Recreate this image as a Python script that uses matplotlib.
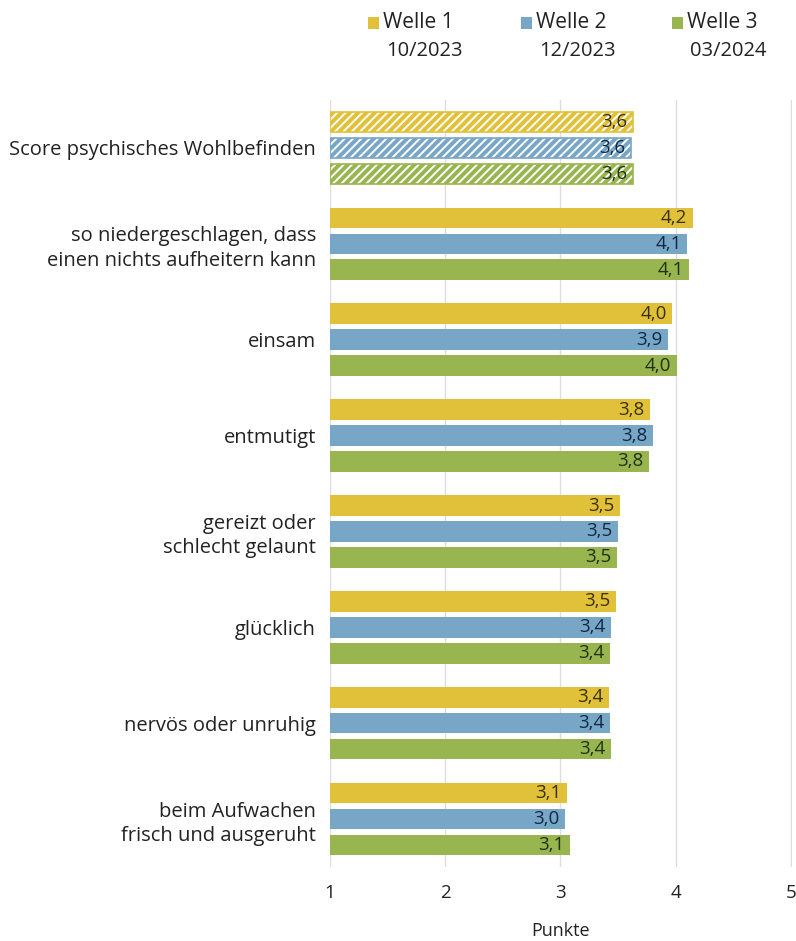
import matplotlib
matplotlib.use("Agg")
import matplotlib.pyplot as plt
from matplotlib.patches import Rectangle
import numpy as np

plt.rcParams['font.family'] = ['Open Sans', 'DejaVu Sans']
plt.rcParams['hatch.linewidth'] = 1.4

categories = [
    "Score psychisches Wohlbefinden",
    "so niedergeschlagen, dass\neinen nichts aufheitern kann",
    "einsam",
    "entmutigt",
    "gereizt oder\nschlecht gelaunt",
    "glücklich",
    "nervös oder unruhig",
    "beim Aufwachen\nfrisch und ausgeruht",
]
welle1 = [3.63, 4.15, 3.97, 3.78, 3.52, 3.48, 3.42, 3.06]
welle2 = [3.61, 4.10, 3.93, 3.80, 3.50, 3.44, 3.43, 3.04]
welle3 = [3.63, 4.12, 4.01, 3.77, 3.49, 3.43, 3.44, 3.08]
series_names = ["Welle 1", "Welle 2", "Welle 3"]
series_dates = ["10/2023", "12/2023", "03/2024"]
xticks = [1, 2, 3, 4, 5]
xlabel = "Punkte"

colors = ["#E2C13A", "#78A6C6", "#99B54F"]
text_colors = ["#3A3000", "#0E2A44", "#1E3210"]

W, H = 796, 941
fig = plt.figure(figsize=(W / 100, H / 100), dpi=100)
ax = fig.add_axes([330 / W, 1 - 867 / H, 462 / W, 767 / H])

base = 1.0
y = np.arange(len(categories))
offsets = [-0.27, 0.0, 0.27]
bh = 0.215
all_series = [welle1, welle2, welle3]

for s, (vals, off, col, tcol) in enumerate(zip(all_series, offsets, colors, text_colors)):
    for i, v in enumerate(vals):
        yy = y[i] + off
        if i == 0:
            ax.barh(yy, v - base, left=base, height=bh, color=col, edgecolor="white",
                    hatch="////", linewidth=0, zorder=3)
            ax.barh(yy, v - base, left=base, height=bh, fill=False, edgecolor=col,
                    linewidth=1.2, zorder=4)
        else:
            ax.barh(yy, v - base, left=base, height=bh, color=col, linewidth=0, zorder=3)
        lab = f"{v:.1f}".replace(".", ",")
        ax.annotate(lab, xy=(v, yy), xytext=(-4, 0), textcoords="offset points",
                    ha="right", va="center", fontsize=13.5, color=tcol, zorder=5)

ax.set_xlim(1, 5.01)
ax.set_ylim(len(categories) - 0.5, -0.5)
ax.set_xticks(xticks)
ax.set_xticklabels([str(t) for t in xticks], fontsize=13.5, color="#222222")
ax.set_yticks(y)
ax.set_yticklabels(categories, fontsize=14.5, color="#222222", linespacing=1.3)
ax.tick_params(axis="both", length=0)
ax.tick_params(axis="y", pad=10)
ax.tick_params(axis="x", pad=12)
for sp in ax.spines.values():
    sp.set_visible(False)
ax.grid(axis="x", color="#DDDDDD", linewidth=1.0, zorder=0)
ax.set_axisbelow(True)
ax.set_xlabel(xlabel, fontsize=13, color="#222222", labelpad=15)

# legend
leg_x = [368, 521, 672]
for name, date, col, lx in zip(series_names, series_dates, colors, leg_x):
    fig.patches.append(Rectangle((lx / W, 1 - 29 / H), 11 / W, 12 / H, transform=fig.transFigure,
                                 facecolor=col, edgecolor="none"))
    fig.text((lx + 15) / W, 1 - 22 / H, name, fontsize=15, color="#222222", va="center", ha="left")
    fig.text((lx + 18) / W, 1 - 51 / H, date, fontsize=14.5, color="#222222", va="center", ha="left")

fig.savefig("out.png", dpi=100)
